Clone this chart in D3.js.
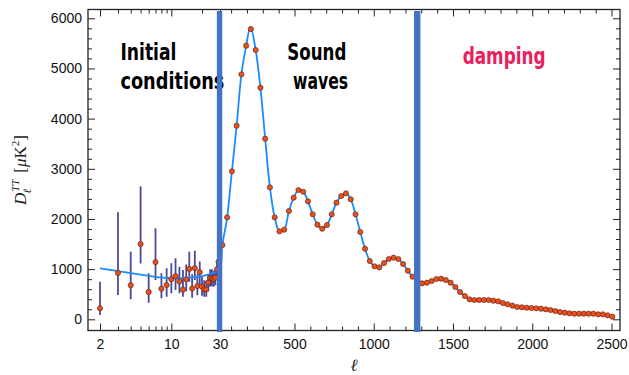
<!DOCTYPE html>
<html><head><meta charset="utf-8">
<script src="https://cdn.jsdelivr.net/npm/d3@7"></script>
<style>body{margin:0;background:#fff}</style>
</head><body>
<svg id="c" width="629" height="375"></svg>
<script>
// ---- data ----
const lowEll   = [2,3,4,5,6,7,8,9,10,11,12,13,14,15,16,17,18,19,20,21,22,23,24,25,26,27,28,29];
const lowD     = [219,925,680,1500,545,1140,610,684,800,860,757,590,797,1005,614,1020,664,940,650,597,597,735,827,820,805,830,997,1148];
const lowErrLo = [86,484,398,1110,331,783,418,451,518,584,518,451,560,750,430,783,480,700,470,450,450,560,650,660,650,680,850,1000];
const lowErrHi = [750,2133,1348,2650,917,1814,917,1016,1116,1216,1049,983,1090,1348,900,1368,900,1150,850,780,770,900,1000,1000,970,980,1150,1300];

const binEll = [45,75,105,135,165,195,225,255,285,315,345,375,405,435,465,495,525,555,585,615,645,675,705,735,765,795,825,855,885,915,945,975,1005,1035,1065,1095,1125,1155,1185,1215,1245,1275,1305,1335,1365,1395,1425,1455,1485,1515,1545,1575,1605,1635,1665,1695,1725,1755,1785,1815,1845,1875,1905,1935,1965,1995,2025,2055,2085,2115,2145,2175,2205,2235,2265,2295,2325,2355,2385,2415,2445,2475,2505];
const binD   = [1480,2033,2950,3859,4883,5454,5786,5368,4617,3600,2631,2033,1754,1786,2159,2424,2577,2543,2352,2093,1886,1806,1880,2093,2324,2458,2511,2392,2093,1740,1407,1162,1056,1036,1122,1202,1228,1202,1102,969,849,780,717,730,763,803,810,783,730,644,544,464,398,385,385,385,385,371,358,325,299,271,245,239,231,225,219,211,199,185,165,145,132,120,112,112,112,112,112,99,99,80,52];

const theoryEll = [2,3,4,5,6,7,8,10,12,15,18,20,22,25,28,30,45,75,105,135,165,195,222,255,285,315,345,375,405,435,465,495,525,555,585,615,645,675,705,735,765,795,825,855,885,915,945,975,1005,1035,1065,1095,1125,1155,1185,1215,1245,1275,1305,1335,1365,1395,1425,1455,1485,1515,1545,1575,1605,1635,1665,1695,1725,1755,1785,1815,1845,1875,1905,1935,1965,1995,2025,2055,2085,2115,2145,2175,2205,2235,2265,2295,2325,2355,2385,2415,2445,2475,2505];
const theoryD   = [1015,960,920,890,865,845,830,818,815,825,845,860,880,915,960,1000,1480,2033,2950,3859,4883,5454,5830,5368,4617,3600,2631,2033,1754,1786,2159,2424,2577,2543,2352,2093,1886,1806,1880,2093,2324,2458,2511,2392,2093,1740,1407,1162,1056,1036,1122,1202,1228,1202,1102,969,849,780,717,730,763,803,810,783,730,644,544,464,398,385,385,385,385,371,358,325,299,271,245,239,231,225,219,211,199,185,165,145,132,120,112,112,112,112,112,99,99,80,52];

const logTicks   = [2,10,30];
const logMinor   = [3,4,5,6,7,8,9,20];
const linTicks   = [500,1000,1500,2000,2500];
const linMinor   = [100,200,300,400,600,700,800,900,1100,1200,1300,1400,1600,1700,1800,1900,2100,2200,2300,2400];
const yTicks     = [0,1000,2000,3000,4000,5000,6000];
const yMinor     = [200,400,600,800,1200,1400,1600,1800,2200,2400,2600,2800,3200,3400,3600,3800,4200,4400,4600,4800,5200,5400,5600,5800];
const dividerEll = [29.7,1274];
// region label lines: text, anchor ell, text width
const labelText  = ["Initial","conditions","Sound","waves","damping"];
const labelEll   = [3.17,3.17,455,491,1561];
const labelWidth = [56,104,59,55,83];
const labelLine  = [0,1,0,1,0];
const labelColor = ["#000","#000","#000","#000","#e8215e"];

// ---- layout ----
const L=88, R=620, T=9.5, B=330.5;
const svg = d3.select("#c");
const xLog = d3.scaleLog().domain([2,30]).range([100,220]);
const xLin = d3.scaleLinear().domain([30,2500]).range([220,611.5]);
const X = l => l <= 30 ? xLog(l) : xLin(l);
const y = d3.scaleLinear().domain([0,6000]).range([319.3,18.3]);

svg.append("defs").append("clipPath").attr("id","clip")
  .append("rect").attr("x",L).attr("y",T).attr("width",R-L).attr("height",B-T);

const font = "'Liberation Sans', Arial, Helvetica, sans-serif";

function styleAxis(g, hideText){
  g.select(".domain").remove();
  g.selectAll(".tick line").attr("stroke","#222").attr("stroke-width",1);
  g.selectAll(".tick text").attr("font-family",font).attr("font-size",14).attr("fill","#111");
  if(hideText) g.selectAll(".tick text").remove();
}

// bottom axes
styleAxis(svg.append("g").attr("transform",`translate(0,${B})`)
  .call(d3.axisBottom(xLog).tickValues(logTicks).tickSize(-7).tickPadding(9).tickFormat(d3.format("d"))));
styleAxis(svg.append("g").attr("transform",`translate(0,${B})`)
  .call(d3.axisBottom(xLog).tickValues(logMinor).tickSize(-4)), true);
styleAxis(svg.append("g").attr("transform",`translate(0,${B})`)
  .call(d3.axisBottom(xLin).tickValues(linTicks).tickSize(-7).tickPadding(9).tickFormat(d3.format("d"))));
styleAxis(svg.append("g").attr("transform",`translate(0,${B})`)
  .call(d3.axisBottom(xLin).tickValues(linMinor).tickSize(-4)), true);
// top axes
styleAxis(svg.append("g").attr("transform",`translate(0,${T})`)
  .call(d3.axisTop(xLog).tickValues(logTicks).tickSize(-7)), true);
styleAxis(svg.append("g").attr("transform",`translate(0,${T})`)
  .call(d3.axisTop(xLog).tickValues(logMinor).tickSize(-4)), true);
styleAxis(svg.append("g").attr("transform",`translate(0,${T})`)
  .call(d3.axisTop(xLin).tickValues(linTicks).tickSize(-7)), true);
styleAxis(svg.append("g").attr("transform",`translate(0,${T})`)
  .call(d3.axisTop(xLin).tickValues(linMinor).tickSize(-4)), true);
// left / right
styleAxis(svg.append("g").attr("transform",`translate(${L},0)`)
  .call(d3.axisLeft(y).tickValues(yTicks).tickSize(-7).tickPadding(6).tickFormat(d3.format("d"))));
styleAxis(svg.append("g").attr("transform",`translate(${L},0)`)
  .call(d3.axisLeft(y).tickValues(yMinor).tickSize(-4)), true);
styleAxis(svg.append("g").attr("transform",`translate(${R},0)`)
  .call(d3.axisRight(y).tickValues(yTicks).tickSize(-7)), true);
styleAxis(svg.append("g").attr("transform",`translate(${R},0)`)
  .call(d3.axisRight(y).tickValues(yMinor).tickSize(-4)), true);

// frame
svg.append("rect").attr("x",L).attr("y",T).attr("width",R-L).attr("height",B-T)
  .attr("fill","none").attr("stroke","#222").attr("stroke-width",1.3);

const plot = svg.append("g").attr("clip-path","url(#clip)");

// region labels
plot.selectAll("text.region").data(labelText).join("text").attr("class","region")
  .attr("x",(d,i)=>X(labelEll[i]))
  .attr("y",(d,i)=> labelColor[i]==="#000" ? 60 + labelLine[i]*28.5 : 64)
  .attr("font-family","'Liberation Sans Narrow','DejaVu Sans Condensed','Arial Narrow',sans-serif")
  .attr("font-weight","bold").attr("font-size",23.5)
  .attr("fill",(d,i)=>labelColor[i])
  .attr("textLength",(d,i)=>labelWidth[i]).attr("lengthAdjust","spacingAndGlyphs")
  .text(d=>d);

// error bars
plot.selectAll("line.err").data(lowEll).join("line").attr("class","err")
  .attr("x1",(d)=>X(d)).attr("x2",(d)=>X(d))
  .attr("y1",(d,i)=>y(lowErrLo[i])).attr("y2",(d,i)=>y(lowErrHi[i]))
  .attr("stroke","#2a2a88").attr("stroke-width",1.8).attr("stroke-opacity",0.85);

// theory curve
const line = d3.line().x((d,i)=>X(theoryEll[i])).y(d=>y(d)).curve(d3.curveCatmullRom.alpha(0.5));
plot.append("path").attr("d", line(theoryD)).attr("fill","none")
  .attr("stroke","#1a8cff").attr("stroke-width",1.8);

// points
const pts = lowEll.map((l,i)=>[l,lowD[i]]).concat(binEll.map((l,i)=>[l,binD[i]]));
plot.selectAll("circle").data(pts).join("circle")
  .attr("cx",d=>X(d[0])).attr("cy",d=>y(d[1])).attr("r",2.6)
  .attr("fill","#e8501e").attr("stroke","#5a1c0c").attr("stroke-width",0.6);

// divider bars
svg.selectAll("rect.div").data(dividerEll).join("rect").attr("class","div")
  .attr("x",(d,i)=>X(d)-(i?3.2:2.7)).attr("width",(d,i)=>i?6.4:5.4)
  .attr("y",11).attr("height",321).attr("fill","#4472c4");

// axis titles
svg.append("text").attr("transform","translate(26,170) rotate(-90)")
  .attr("text-anchor","middle").attr("font-family","'Liberation Serif','DejaVu Serif',serif")
  .attr("font-size",17).attr("fill","#222")
  .call(t=>{
    t.append("tspan").attr("font-style","italic").text("D");
    t.append("tspan").attr("font-size",11).attr("font-style","italic").attr("dy",-7).attr("dx",1).text("TT");
    t.append("tspan").attr("font-size",11).attr("font-style","italic").attr("dy",12).attr("dx",-14).text("ℓ");
    t.append("tspan").attr("dy",-5).attr("dx",12).text(" [");
    t.append("tspan").attr("font-style","italic").text("μ");
    t.append("tspan").text("K");
    t.append("tspan").attr("font-size",11).attr("dy",-7).text("2");
    t.append("tspan").attr("dy",7).text("]");
  });
svg.append("text").attr("x",354).attr("y",371).attr("text-anchor","middle")
  .attr("font-family","'DejaVu Serif','Liberation Serif',serif").attr("font-style","italic")
  .attr("font-size",17).attr("fill","#222").text("ℓ");
</script>
</body></html>
